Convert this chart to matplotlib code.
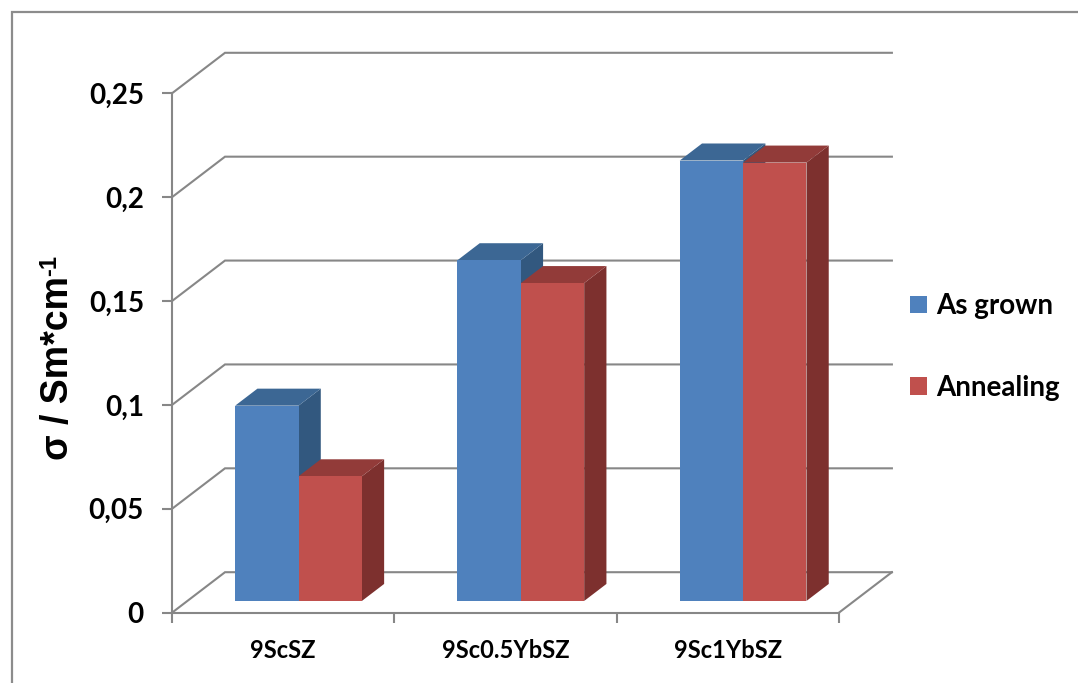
import matplotlib
matplotlib.use("Agg")
import matplotlib.pyplot as plt
from matplotlib.patches import Polygon, Rectangle, Patch

# data
categories = ['9ScSZ', '9Sc0.5YbSZ', '9Sc1YbSZ']
series_names = ['As grown', 'Annealing']
as_grown = [0.094, 0.164, 0.212]
annealing = [0.060, 0.153, 0.211]
ytick_vals = [0, 0.05, 0.1, 0.15, 0.2, 0.25]
ytick_labels = ['0', '0,05', '0,1', '0,15', '0,2', '0,25']

front = ['#4F81BD', '#C0504D']
top = ['#3C6794', '#923B39']
side = ['#32587F', '#7D302E']
grid_c = '#878787'

W, H = 1078, 683
fig = plt.figure(figsize=(W / 100, H / 100), dpi=100)
fig.patch.set_facecolor('white')

# plot area in pixels
px_cat = 222.3      # pixels per category
px_val = 2077.6     # pixels per unit of conductivity
left, right, bottom, topp = 172, 900, 612.7, 45
ax = fig.add_axes([left / W, 1 - bottom / H, (right - left) / W, (bottom - topp) / H])
ax.set_xlim(0, (right - left) / px_cat)
ax.set_ylim(0, (bottom - topp) / px_val)
ax.patch.set_alpha(0)

# oblique depth of the walls
DX = 53 / px_cat
DY = 40.5 / px_val
ncat = len(categories)

# side wall + back wall gridlines
for v in ytick_vals:
    ax.plot([0, DX, ncat + DX], [v, v + DY, v + DY], color=grid_c, lw=1.5,
            solid_joinstyle='miter', zorder=1, clip_on=False)
# floor right edge
ax.plot([ncat, ncat + DX], [0, DY], color=grid_c, lw=1.5, zorder=1, clip_on=False)

# bars
bw = 0.285
g0 = 0.215
f1, d = 0.29, 0.42
for i in range(ncat):
    for j, vals in enumerate([as_grown, annealing]):
        v = vals[i]
        x0 = i + g0 + j * bw + f1 * DX
        y0 = f1 * DY
        ddx, ddy = d * DX, d * DY
        zo = 3 + i * 3 + j
        ax.add_patch(Polygon([(x0 + bw, y0), (x0 + bw + ddx, y0 + ddy),
                              (x0 + bw + ddx, y0 + v + ddy), (x0 + bw, y0 + v)],
                             closed=True, fc=side[j], ec='none', zorder=zo))
        ax.add_patch(Polygon([(x0, y0 + v), (x0 + ddx, y0 + v + ddy),
                              (x0 + bw + ddx, y0 + v + ddy), (x0 + bw, y0 + v)],
                             closed=True, fc=top[j], ec='none', zorder=zo))
        ax.add_patch(Rectangle((x0, y0), bw, v, fc=front[j], ec='none', zorder=zo))

# axes
for s in ['top', 'right']:
    ax.spines[s].set_visible(False)
for s in ['left', 'bottom']:
    ax.spines[s].set_color(grid_c)
    ax.spines[s].set_linewidth(1.5)
    ax.spines[s].set_zorder(20)
ax.spines['left'].set_bounds(0, 0.25)
ax.spines['bottom'].set_bounds(0, ncat)

ax.set_yticks(ytick_vals)
ax.set_yticklabels(ytick_labels, fontdict=dict(family='Lato', weight='bold', size=20))
ax.tick_params(axis='y', direction='out', length=7.2, width=1.5, color=grid_c, pad=13)

ax.set_xticks(range(ncat + 1))
ax.set_xticklabels([])
ax.set_xticks([i + 0.5 for i in range(ncat)], minor=True)
ax.set_xticklabels(categories, minor=True, fontdict=dict(family='Lato', weight='bold', size=17))
ax.tick_params(axis='x', which='major', direction='out', length=7.2, width=1.5, color=grid_c)
ax.tick_params(axis='x', which='minor', length=0, pad=19)

# y label with superscript exponent
ylab = fig.text(58 / W, 1 - 368 / H, 'σ / Sm*cm', rotation=90,
                ha='center', va='center', family='Liberation Sans', weight='bold', size=27)
ax.annotate('-1', xy=(0.0, 1.0), xycoords=ylab, xytext=(-1, 0), textcoords='offset points',
            rotation=90, ha='left', va='bottom',
            family='Liberation Sans', weight='bold', size=17)

# legend
handles = [Patch(facecolor=front[k], edgecolor='none') for k in range(2)]
leg = fig.legend(handles, series_names, loc='center left',
                 bbox_to_anchor=(899 / W, 1 - 347 / H), frameon=False,
                 prop=dict(family='Lato', weight='bold', size=20),
                 handlelength=0.6, handleheight=0.6, handletextpad=0.35,
                 labelspacing=2.0, borderaxespad=0)

# outer frame
fig.patches.append(Rectangle((11.5 / W, -0.2), 1.5, 1.2 - 11.5 / H, transform=fig.transFigure,
                             fill=False, ec='#8C8C8C', lw=1.6))

fig.savefig('out.png', dpi=100)
